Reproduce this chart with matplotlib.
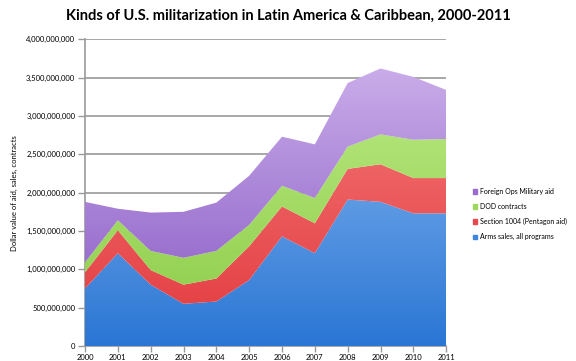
import numpy as np
import matplotlib
matplotlib.use("Agg")
import matplotlib.pyplot as plt
from matplotlib.colors import LinearSegmentedColormap
from matplotlib.ticker import FuncFormatter

plt.rcParams["font.family"] = ["Lato", "DejaVu Sans"]

years = [2000, 2001, 2002, 2003, 2004, 2005, 2006, 2007, 2008, 2009, 2010, 2011]
arms_sales = [0.75, 1.21, 0.80, 0.55, 0.58, 0.86, 1.43, 1.21, 1.91, 1.88, 1.73, 1.73]
section_1004 = [0.21, 0.30, 0.19, 0.25, 0.30, 0.44, 0.39, 0.39, 0.40, 0.49, 0.46, 0.46]
dod_contracts = [0.13, 0.13, 0.25, 0.35, 0.36, 0.28, 0.27, 0.33, 0.29, 0.39, 0.50, 0.51]
foreign_ops = [0.79, 0.15, 0.50, 0.60, 0.63, 0.64, 0.64, 0.70, 0.83, 0.86, 0.82, 0.64]

labels = ["Arms sales, all programs", "Section 1004 (Pentagon aid)",
          "DOD contracts", "Foreign Ops Military aid"]
# (dark bottom, light top) for the gradient fills
grads = [("#2a76d4", "#8fbcf2"), ("#e23a3e", "#f57a7a"),
         ("#8acb45", "#bdeb86"), ("#8455c2", "#cbaeea")]
swatch = ["#3d86dd", "#e8484c", "#9ed858", "#9a6bd0"]

series = [np.array(s) * 1e9 for s in (arms_sales, section_1004, dod_contracts, foreign_ops)]

fig = plt.figure(figsize=(5.76, 3.61), dpi=100)
ax = fig.add_axes([0.1476, 0.0416, 0.627, 0.8495])

x = np.array(years)
base = np.zeros(len(x))
ymax = 4e9
for vals, (c0, c1), lab, sw in zip(series, grads, labels, swatch):
    top = base + vals
    poly = ax.fill_between(x, base, top, facecolor="none", edgecolor="none", zorder=3)
    cmap = LinearSegmentedColormap.from_list("g", [c0, c1])
    grad = np.linspace(0, 1, 256).reshape(-1, 1)
    im = ax.imshow(grad, cmap=cmap, aspect="auto", origin="lower",
                   extent=[x[0], x[-1], 0, 3.7e9], zorder=3)
    im.set_clip_path(poly.get_paths()[0], transform=ax.transData)
    ax.fill_between([], [], [], color=sw, label=lab)
    base = top

ax.set_xlim(2000, 2011)
ax.set_ylim(0, ymax)
ax.set_xticks(years)
ax.set_yticks(np.arange(0, 4.01e9, 5e8))
ax.yaxis.set_major_formatter(FuncFormatter(lambda v, p: f"{int(v):,}"))
ax.tick_params(axis="both", labelsize=5.5, color="#999999", length=5, width=1, pad=2)
ax.tick_params(axis="x", length=4, pad=1.5)
ax.grid(axis="y", color="#a0a0a0", linewidth=1.3, zorder=1)
ax.set_axisbelow(True)
for s in ("top", "right"):
    ax.spines[s].set_visible(False)
ax.spines["left"].set_color("#999999")
ax.spines["left"].set_linewidth(1.2)
ax.spines["bottom"].set_color("#999999")
ax.spines["bottom"].set_linewidth(1.2)

ax.set_ylabel("Dollar value of aid, sales, contracts", fontsize=5.5, labelpad=6)
fig.suptitle("Kinds of U.S. militarization in Latin America & Caribbean, 2000-2011",
             fontsize=10.5, fontweight="bold", y=0.975)

h, l = ax.get_legend_handles_labels()
ax.legend(h[::-1], l[::-1], loc="center left", bbox_to_anchor=(1.075, 0.43),
          frameon=False, fontsize=5.0, handlelength=0.55, handleheight=0.55,
          handletextpad=0.4, labelspacing=1.15, borderpad=0, borderaxespad=0)

fig.savefig("out.png", dpi=100)
